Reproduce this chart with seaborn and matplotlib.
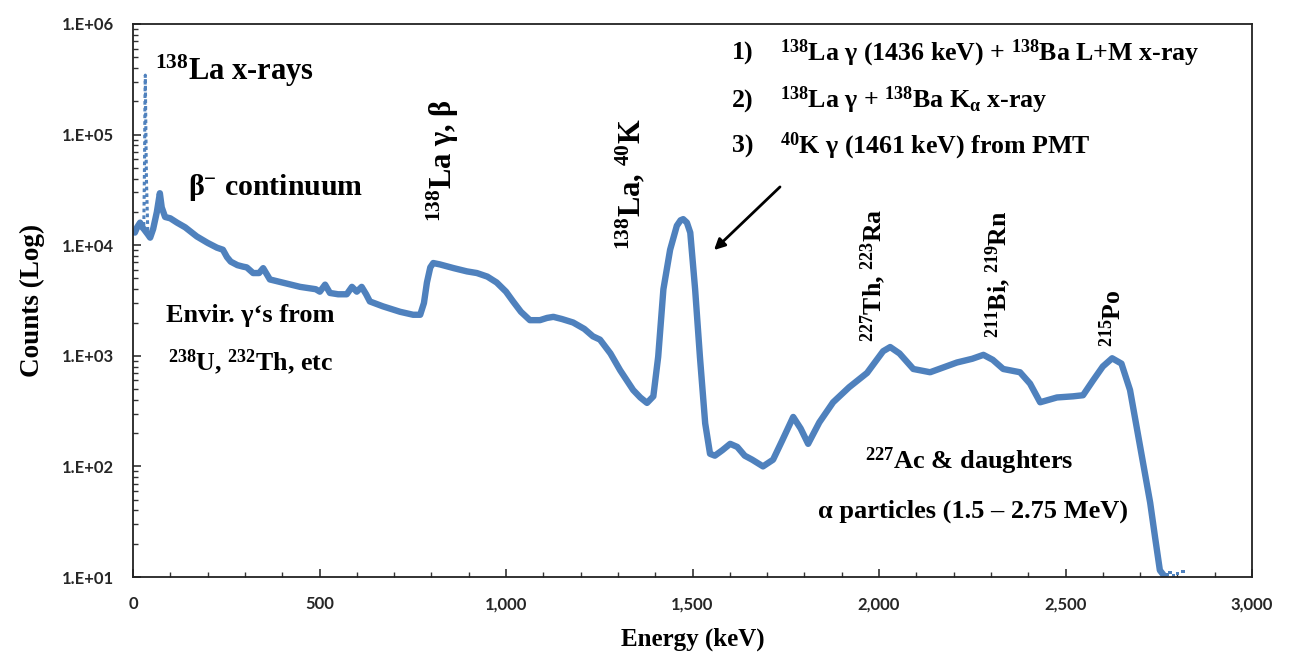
import numpy as np
import matplotlib
matplotlib.use("Agg")
import matplotlib.pyplot as plt
import matplotlib.ticker as mticker
import seaborn as sns

# ---------------- data ----------------
energy_kev = [5, 11, 19, 25, 29, 40, 46, 54, 64, 72, 77, 86, 100, 118, 140, 171, 200, 225,
              241, 252, 262, 280, 295, 305, 322, 338, 349, 358, 367, 400, 448, 490, 501,
              515, 528, 550, 573, 587, 600, 613, 625, 635, 670, 716, 751, 770, 780, 788,
              797, 805, 823, 860, 895, 922, 950, 975, 1000, 1019, 1040, 1064, 1091, 1110,
              1127, 1150, 1180, 1210, 1233, 1252, 1280, 1306, 1341, 1360, 1378, 1395, 1408,
              1422, 1440, 1458, 1468, 1475, 1485, 1494, 1507, 1520, 1534, 1547, 1560, 1580,
              1601, 1620, 1640, 1660, 1689, 1716, 1740, 1770, 1790, 1810, 1840, 1877, 1920,
              1968, 2011, 2030, 2055, 2092, 2137, 2175, 2209, 2250, 2280, 2305, 2333, 2378,
              2405, 2432, 2477, 2520, 2547, 2574, 2600, 2625, 2650, 2673, 2692, 2708, 2727,
              2740, 2753, 2767]
counts = [1.3e4, 1.45e4, 1.6e4, 1.45e4, 1.4e4, 1.25e4, 1.17e4, 1.4e4, 2.0e4, 2.95e4, 2.2e4,
          1.8e4, 1.75e4, 1.6e4, 1.45e4, 1.2e4, 1.05e4, 9.5e3,
          9.1e3, 7.8e3, 7.1e3, 6.6e3, 6.4e3, 6.3e3, 5.6e3, 5.6e3, 6.2e3, 5.5e3, 4.9e3, 4.6e3,
          4.2e3, 4.0e3, 3.8e3, 4.4e3, 3.7e3, 3.6e3, 3.6e3, 4.2e3, 3.8e3, 4.2e3, 3.6e3, 3.1e3,
          2.8e3, 2.5e3, 2.35e3, 2.35e3, 3.0e3, 4.6e3,
          6.3e3, 6.9e3, 6.7e3, 6.2e3, 5.8e3, 5.6e3, 5.2e3, 4.6e3, 3.8e3, 3.1e3, 2.5e3, 2.1e3,
          2.1e3, 2.2e3, 2.25e3, 2.15e3, 2.0e3, 1.75e3, 1.5e3, 1.4e3, 1.05e3, 740, 490, 420,
          375, 430, 980, 4.0e3, 9.1e3, 1.5e4, 1.68e4, 1.72e4, 1.6e4, 1.3e4, 4.0e3, 970,
          245, 130, 125, 140, 160, 150, 125, 115, 100, 115, 170, 280, 220, 160, 250, 380, 520,
          700, 1.1e3, 1.2e3, 1.05e3, 760, 710, 790, 870, 940, 1.02e3, 920, 760, 710,
          560, 380, 420, 430, 440, 600, 800, 950, 850, 490, 215, 107, 47,
          23, 11.5, 10]

# 138La x-ray peak (sparse, steep points)
xray_kev = [29, 31, 32, 33, 34, 36, 40]
xray_counts = [1.5e4, 6.0e4, 2.0e5, 3.45e5, 1.6e5, 4.0e4, 1.2e4]

# sparse tail points near the detection floor
tail_kev = [2772, 2780, 2790, 2800, 2815]
tail_counts = [10.5, 11.0, 10.3, 10.8, 11.2]

# ---------------- style ----------------
sns.set_theme(style="ticks")
plt.rcParams["font.family"] = ["Lato", "DejaVu Sans"]
plt.rcParams["font.weight"] = "bold"
plt.rcParams["mathtext.fontset"] = "custom"
plt.rcParams["mathtext.rm"] = "Liberation Serif:bold"
plt.rcParams["mathtext.bf"] = "Liberation Serif:bold"
plt.rcParams["mathtext.it"] = "Liberation Serif:italic:bold"
plt.rcParams["mathtext.default"] = "rm"

LINE = "#4F81BD"
SERIF = dict(family="Liberation Serif", fontweight="bold", color="black")

fig = plt.figure(figsize=(13.06, 6.59), dpi=100)
W, H = 1306, 659
L, R, T, B = 133, 1252, 24, 577
ax = fig.add_axes([L / W, 1 - B / H, (R - L) / W, (B - T) / H])

sns.lineplot(x=energy_kev, y=counts, ax=ax, color=LINE, lw=4.6, estimator=None,
             sort=False, solid_capstyle="round", solid_joinstyle="round")
sns.lineplot(x=xray_kev, y=xray_counts, ax=ax, color=LINE, lw=2.2, estimator=None,
             sort=False, linestyle=(0, (1.2, 1.0)))
sns.scatterplot(x=tail_kev, y=tail_counts, ax=ax, color=LINE, s=6, marker="s",
                edgecolor="none")

ax.set_yscale("log")
ax.set_xlim(0, 3000)
ax.set_ylim(10, 1e6)
ax.xaxis.set_major_locator(mticker.MultipleLocator(500))
ax.xaxis.set_minor_locator(mticker.MultipleLocator(100))
ax.xaxis.set_major_formatter(mticker.FuncFormatter(lambda v, p: f"{v:,.0f}"))
ax.yaxis.set_major_locator(mticker.LogLocator(base=10, numticks=10))
ax.yaxis.set_minor_locator(mticker.LogLocator(base=10, subs=np.arange(2, 10), numticks=20))
ax.yaxis.set_minor_formatter(mticker.NullFormatter())
ax.yaxis.set_major_formatter(mticker.FuncFormatter(lambda v, p: "1.E+%02d" % round(np.log10(v))))

ax.tick_params(axis="both", which="major", direction="in", length=6, width=1.2,
               color="#333333", labelsize=12, pad=14)
ax.tick_params(axis="both", which="minor", direction="in", length=3.5, width=1.0,
               color="#333333")
ax.tick_params(top=False, right=False, which="both")
for lbl in ax.get_xticklabels() + ax.get_yticklabels():
    lbl.set_fontweight("bold")
for s in ax.spines.values():
    s.set_color("#222222")
    s.set_linewidth(1.3)
    s.set_visible(True)

ax.set_xlabel("Energy (keV)", fontsize=18, labelpad=11, **SERIF)
ax.set_ylabel("Counts (Log)", fontsize=19.5, labelpad=12, **SERIF)


def px(xp, yp):
    return ((xp - L) / (R - L), (B - yp) / (B - T))


def put(text, xp, yp, size=16, **kw):
    x, y = px(xp, yp)
    opts = dict(SERIF)
    opts.update(kw)
    ax.text(x, y, text, transform=ax.transAxes, fontsize=size, **opts)


put(r"$^{138}$La x-rays", 155, 80, size=22, va="baseline")
put(r"β$^{-}$ continuum", 188, 195, size=21.5, va="baseline")
put("Envir. γ‘s from", 166, 322, size=19, va="baseline")
put(r"$^{238}$U, $^{232}$Th, etc", 168, 370, size=18.6, va="baseline")
put(r"$^{138}$La γ, β", 443, 222, size=22, rotation=90, ha="center", va="bottom")
put(r"$^{138}$La, $^{40}$K", 631, 250, size=22, rotation=90, ha="center", va="bottom")

put("1)", 732, 60, size=18.6, va="baseline")
put(r"$^{138}$La γ (1436 keV) + $^{138}$Ba L+M x-ray", 780, 60, size=18.6, va="baseline")
put("2)", 732, 108, size=18.6, va="baseline")
put(r"$^{138}$La γ + $^{138}$Ba K$_{\alpha}$ x-ray", 780, 108, size=18.6, va="baseline")
put("3)", 732, 153, size=18.6, va="baseline")
put(r"$^{40}$K γ (1461 keV) from PMT", 780, 153, size=18.6, va="baseline")

ax.annotate("", xy=px(712, 252), xytext=px(782, 185), xycoords="axes fraction",
            textcoords="axes fraction",
            arrowprops=dict(arrowstyle="-|>", color="black", lw=2.0, mutation_scale=16))

put(r"$^{227}$Th, $^{223}$Ra", 873, 342, size=18.5, rotation=90, ha="center", va="bottom")
put(r"$^{211}$Bi, $^{219}$Rn", 998, 338, size=18.5, rotation=90, ha="center", va="bottom")
put(r"$^{215}$Po", 1113, 347, size=18.5, rotation=90, ha="center", va="bottom")

put(r"$^{227}$Ac & daughters", 865, 469, size=19, va="baseline")
put("α particles (1.5 – 2.75 MeV)", 818, 518, size=19, va="baseline")

fig.savefig("out.png", dpi=100, facecolor="white")
